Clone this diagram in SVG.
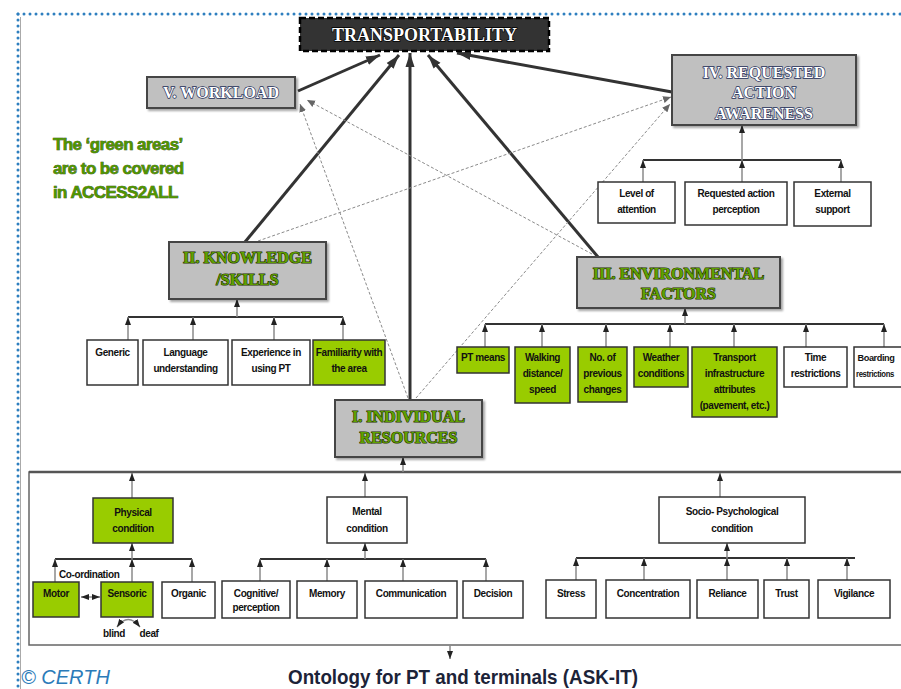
<svg xmlns="http://www.w3.org/2000/svg" width="901" height="689" viewBox="0 0 901 689">
<defs>
<style>
.gbox{fill:#c0c0c0;stroke:#444;stroke-width:2}
.wbox{fill:#fff;stroke:#333;stroke-width:1.5}
.grbox{fill:#99cc00;stroke:#333;stroke-width:1.5}
.t{font-family:"Liberation Sans",Arial,sans-serif;font-weight:bold;font-size:10px;fill:#111;text-anchor:middle;letter-spacing:-0.4px}
.hw{font-family:"Liberation Serif","Times New Roman",serif;font-weight:bold;font-size:16px;fill:#fff;stroke:#26305a;stroke-width:1.4px;paint-order:stroke;text-anchor:middle}
.hg{font-family:"Liberation Serif","Times New Roman",serif;font-weight:bold;font-size:16px;fill:#5fa000;stroke:#1f3300;stroke-width:1.2px;paint-order:stroke;text-anchor:middle}
.note{font-family:"Liberation Sans",Arial,sans-serif;font-weight:bold;font-size:17px;fill:#4f9400;stroke:#1d3600;stroke-width:0.6px;paint-order:stroke;letter-spacing:-0.6px}
.main{stroke:#333;stroke-width:3;fill:none}
.dash{stroke:#8a8a8a;stroke-width:1;stroke-dasharray:3 2;fill:none}
.tree{stroke:#8a8a8a;stroke-width:1.5;fill:none}
.bar{stroke:#333;stroke-width:2;fill:none}
</style>
<filter id="sh" x="-10%" y="-10%" width="130%" height="140%"><feDropShadow dx="2" dy="2" stdDeviation="1" flood-color="#000" flood-opacity="0.35"/></filter>
<marker id="ah" viewBox="0 0 8 8" refX="8" refY="4" markerWidth="8" markerHeight="8" markerUnits="userSpaceOnUse" orient="auto"><path d="M0,1 L8,4 L0,7z" fill="#222"/></marker>
<marker id="ahs" viewBox="0 0 8 8" refX="8" refY="4" markerWidth="8" markerHeight="8" markerUnits="userSpaceOnUse" orient="auto-start-reverse"><path d="M0,1 L8,4 L0,7z" fill="#222"/></marker>
<marker id="ab" viewBox="0 0 14 10" refX="14" refY="5" markerWidth="14" markerHeight="10" markerUnits="userSpaceOnUse" orient="auto"><path d="M0,0.5 L14,5 L0,9.5z" fill="#333"/></marker>
<marker id="ad" viewBox="0 0 8 8" refX="8" refY="4" markerWidth="8" markerHeight="8" markerUnits="userSpaceOnUse" orient="auto"><path d="M0,0.5 L8,4 L0,7.5z" fill="#666"/></marker>
</defs>
<rect width="901" height="689" fill="#fff"/>
<g id="border">
<line x1="20.5" y1="17" x2="20.5" y2="689" stroke="#aaa" stroke-width="1"/>
<line x1="18" y1="14" x2="901" y2="14" stroke="#2e7fbf" stroke-width="3" stroke-linecap="round" stroke-dasharray="0 6"/>
<line x1="18" y1="14" x2="18" y2="689" stroke="#2e7fbf" stroke-width="3" stroke-linecap="round" stroke-dasharray="0 6"/>
</g>

<g id="connectors">
<line class="main" x1="298" y1="91" x2="380" y2="55" marker-end="url(#ab)"/>
<line class="main" x1="245" y1="242" x2="399" y2="55" marker-end="url(#ab)"/>
<line class="main" x1="410" y1="400" x2="410" y2="53" marker-end="url(#ab)"/>
<line class="main" x1="598" y1="257" x2="428" y2="55" marker-end="url(#ab)"/>
<line class="main" x1="672" y1="92" x2="457" y2="53" marker-end="url(#ab)"/>
<line class="dash" x1="408" y1="398" x2="300" y2="104" marker-end="url(#ad)"/>
<line class="dash" x1="592" y1="254" x2="307" y2="100" marker-end="url(#ad)"/>
<line class="dash" x1="258" y1="241" x2="671" y2="97" marker-end="url(#ad)"/>
<line class="dash" x1="416" y1="398" x2="670" y2="104" marker-end="url(#ad)"/>

<line class="bar" x1="643" y1="160" x2="841" y2="160"/>
<line class="tree" x1="742" y1="160" x2="742" y2="125" marker-end="url(#ah)"/>
<line class="tree" x1="643" y1="182" x2="643" y2="160" marker-end="url(#ah)"/>
<line class="tree" x1="742" y1="182" x2="742" y2="160" marker-end="url(#ah)"/>
<line class="tree" x1="841" y1="182" x2="841" y2="160" marker-end="url(#ah)"/>

<line class="bar" x1="128" y1="317" x2="343" y2="317"/>
<line class="tree" x1="237" y1="317" x2="237" y2="299" marker-end="url(#ah)"/>
<line class="tree" x1="128" y1="340" x2="128" y2="317" marker-end="url(#ah)"/>
<line class="tree" x1="193" y1="340" x2="193" y2="317" marker-end="url(#ah)"/>
<line class="tree" x1="274" y1="340" x2="274" y2="317" marker-end="url(#ah)"/>
<line class="tree" x1="343" y1="340" x2="343" y2="317" marker-end="url(#ah)"/>

<line class="bar" x1="485" y1="324" x2="884" y2="324"/>
<line class="tree" x1="685" y1="324" x2="685" y2="308" marker-end="url(#ah)"/>
<line class="tree" x1="485" y1="347" x2="485" y2="324" marker-end="url(#ah)"/>
<line class="tree" x1="542" y1="347" x2="542" y2="324" marker-end="url(#ah)"/>
<line class="tree" x1="606" y1="347" x2="606" y2="324" marker-end="url(#ah)"/>
<line class="tree" x1="670" y1="347" x2="670" y2="324" marker-end="url(#ah)"/>
<line class="tree" x1="734" y1="347" x2="734" y2="324" marker-end="url(#ah)"/>
<line class="tree" x1="806" y1="347" x2="806" y2="324" marker-end="url(#ah)"/>
<line class="tree" x1="884" y1="347" x2="884" y2="324" marker-end="url(#ah)"/>

<rect x="29" y="472" width="885" height="173" fill="none" stroke="#666" stroke-width="1.5"/>
<line x1="29" y1="472" x2="901" y2="472" stroke="#555" stroke-width="2.5"/>
<line class="tree" x1="403" y1="472" x2="403" y2="457" marker-end="url(#ah)"/>
<line class="tree" x1="132" y1="498" x2="132" y2="473" marker-end="url(#ah)"/>
<line class="tree" x1="365" y1="497" x2="365" y2="473" marker-end="url(#ah)"/>
<line class="tree" x1="720" y1="497" x2="720" y2="473" marker-end="url(#ah)"/>
<line class="tree" x1="450" y1="645" x2="450" y2="659" marker-end="url(#ah)"/>

<line class="bar" x1="55" y1="559" x2="192" y2="559" stroke-width="1.5"/>
<line class="tree" x1="132" y1="559" x2="132" y2="543" marker-end="url(#ah)"/>
<line class="tree" x1="55" y1="582" x2="55" y2="559" marker-end="url(#ah)"/>
<line class="tree" x1="132" y1="582" x2="132" y2="559" marker-end="url(#ah)"/>
<line class="tree" x1="192" y1="582" x2="192" y2="559" marker-end="url(#ah)"/>
<line class="tree" x1="81" y1="597" x2="100" y2="597" marker-start="url(#ahs)" marker-end="url(#ah)"/>
<path class="tree" d="M117,627 Q128,612 140,627" marker-start="url(#ahs)" marker-end="url(#ah)" stroke-width="1.2"/>

<line class="bar" x1="260" y1="559" x2="486" y2="559" stroke-width="1.5"/>
<line class="tree" x1="365" y1="559" x2="365" y2="543" marker-end="url(#ah)"/>
<line class="tree" x1="260" y1="581" x2="260" y2="559" marker-end="url(#ah)"/>
<line class="tree" x1="327" y1="581" x2="327" y2="559" marker-end="url(#ah)"/>
<line class="tree" x1="403" y1="581" x2="403" y2="559" marker-end="url(#ah)"/>
<line class="tree" x1="486" y1="581" x2="486" y2="559" marker-end="url(#ah)"/>

<line class="bar" x1="576" y1="558" x2="855" y2="558" stroke-width="1.5"/>
<line class="tree" x1="727" y1="558" x2="727" y2="543" marker-end="url(#ah)"/>
<line class="tree" x1="576" y1="580" x2="576" y2="558" marker-end="url(#ah)"/>
<line class="tree" x1="644" y1="580" x2="644" y2="558" marker-end="url(#ah)"/>
<line class="tree" x1="727" y1="580" x2="727" y2="558" marker-end="url(#ah)"/>
<line class="tree" x1="787" y1="580" x2="787" y2="558" marker-end="url(#ah)"/>
<line class="tree" x1="847" y1="580" x2="847" y2="558" marker-end="url(#ah)"/>
</g>

<g id="transportability">
<rect x="300" y="18" width="249" height="33" fill="#333" stroke="#000" stroke-width="2.5" stroke-dasharray="6 3"/>
<text x="424.5" y="41" class="hw" style="font-size:18px;stroke:#000">TRANSPORTABILITY</text>
</g>

<g id="workload">
<rect class="gbox" x="147" y="77" width="148" height="31" filter="url(#sh)"/>
<text x="221" y="98" class="hw">V. WORKLOAD</text>
</g>

<g id="requested-action">
<rect class="gbox" x="672" y="55" width="184" height="70" filter="url(#sh)"/>
<text x="764" y="78" class="hw">IV. REQUESTED</text>
<text x="764" y="98" class="hw">ACTION</text>
<text x="764" y="119" class="hw">AWARENESS</text>
</g>

<g id="note">
<text x="53" y="150" class="note">The ‘green areas’</text>
<text x="53" y="174" class="note">are to be covered</text>
<text x="53" y="198" class="note">in ACCESS2ALL</text>
</g>

<g id="level-attention"><rect class="wbox" x="598" y="182" width="77" height="41"/><text class="t" x="636.5" y="197">Level of</text><text class="t" x="636.5" y="213">attention</text></g>
<g id="req-perception"><rect class="wbox" x="685" y="182" width="102" height="43"/><text class="t" x="736" y="197">Requested action</text><text class="t" x="736" y="213">perception</text></g>
<g id="external-support"><rect class="wbox" x="794" y="182" width="77" height="44"/><text class="t" x="832.5" y="197">External</text><text class="t" x="832.5" y="213">support</text></g>

<g id="knowledge">
<rect class="gbox" x="169" y="242" width="157" height="57" filter="url(#sh)"/>
<text x="247.5" y="263" class="hg">II. KNOWLEDGE</text>
<text x="247.5" y="285" class="hg">/SKILLS</text>
</g>
<g id="generic"><rect class="wbox" x="87" y="340" width="51" height="45"/><text class="t" x="112.5" y="356">Generic</text></g>
<g id="language"><rect class="wbox" x="143" y="340" width="85" height="45"/><text class="t" x="185.5" y="356">Language</text><text class="t" x="185.5" y="372">understanding</text></g>
<g id="experience"><rect class="wbox" x="232" y="340" width="78" height="45"/><text class="t" x="271" y="356">Experience in</text><text class="t" x="271" y="372">using PT</text></g>
<g id="familiarity"><rect class="grbox" x="313" y="340" width="72" height="45"/><text class="t" x="349" y="356">Familiarity with</text><text class="t" x="349" y="372">the area</text></g>

<g id="environmental">
<rect class="gbox" x="577" y="257" width="203" height="51" filter="url(#sh)"/>
<text x="678.5" y="279" class="hg">III. ENVIRONMENTAL</text>
<text x="678.5" y="299" class="hg">FACTORS</text>
</g>
<g id="pt-means"><rect class="grbox" x="457" y="347" width="52" height="26"/><text class="t" x="483" y="361">PT means</text></g>
<g id="walking"><rect class="grbox" x="515" y="347" width="55" height="56"/><text class="t" x="542.5" y="361">Walking</text><text class="t" x="542.5" y="377">distance/</text><text class="t" x="542.5" y="393">speed</text></g>
<g id="changes"><rect class="grbox" x="578" y="347" width="49" height="55"/><text class="t" x="602.5" y="361">No. of</text><text class="t" x="602.5" y="377">previous</text><text class="t" x="602.5" y="393">changes</text></g>
<g id="weather"><rect class="grbox" x="634" y="347" width="54" height="40"/><text class="t" x="661" y="361">Weather</text><text class="t" x="661" y="377">conditions</text></g>
<g id="transport-infra"><rect class="grbox" x="692" y="347" width="85" height="70"/><text class="t" x="734.5" y="361">Transport</text><text class="t" x="734.5" y="377">infrastructure</text><text class="t" x="734.5" y="393">attributes</text><text class="t" x="734.5" y="409">(pavement, etc.)</text></g>
<g id="time"><rect class="wbox" x="784" y="347" width="63" height="40"/><text class="t" x="815.5" y="361">Time</text><text class="t" x="815.5" y="377">restrictions</text></g>
<g id="boarding"><rect class="wbox" x="854" y="347" width="62" height="40"/><text class="t" x="876" y="361" style="font-size:9px" textLength="37" lengthAdjust="spacingAndGlyphs">Boarding</text><text class="t" x="875" y="377" style="font-size:9px" textLength="38" lengthAdjust="spacingAndGlyphs">restrictions</text></g>

<g id="individual">
<rect class="gbox" x="335" y="400" width="147" height="57" filter="url(#sh)"/>
<text x="408.5" y="422" class="hg">I. INDIVIDUAL</text>
<text x="408.5" y="443" class="hg">RESOURCES</text>
</g>

<g id="physical"><rect class="grbox" x="93" y="498" width="80" height="45"/><text class="t" x="133" y="516">Physical</text><text class="t" x="133" y="532">condition</text></g>
<g id="coordination"><text class="t" x="59" y="578" style="text-anchor:start">Co-ordination</text></g>
<g id="motor"><rect class="grbox" x="33" y="582" width="46" height="35"/><text class="t" x="56" y="597">Motor</text></g>
<g id="sensoric"><rect class="grbox" x="101" y="582" width="52" height="35"/><text class="t" x="127" y="597">Sensoric</text></g>
<g id="organic"><rect class="wbox" x="162" y="582" width="53" height="36"/><text class="t" x="188.5" y="597">Organic</text></g>
<g id="blind-deaf"><text class="t" x="114" y="637">blind</text><text class="t" x="149" y="637">deaf</text></g>

<g id="mental"><rect class="wbox" x="327" y="497" width="80" height="46"/><text class="t" x="367" y="515">Mental</text><text class="t" x="367" y="532">condition</text></g>
<g id="cognitive"><rect class="wbox" x="222" y="581" width="68" height="37"/><text class="t" x="256" y="597">Cognitive/</text><text class="t" x="256" y="611">perception</text></g>
<g id="memory"><rect class="wbox" x="297" y="581" width="60" height="37"/><text class="t" x="327" y="597">Memory</text></g>
<g id="communication"><rect class="wbox" x="365" y="581" width="92" height="37"/><text class="t" x="411" y="597">Communication</text></g>
<g id="decision"><rect class="wbox" x="463" y="581" width="60" height="37"/><text class="t" x="493" y="597">Decision</text></g>

<g id="socio"><rect class="wbox" x="659" y="497" width="146" height="46"/><text class="t" x="732" y="515">Socio- Psychological</text><text class="t" x="732" y="532">condition</text></g>
<g id="stress"><rect class="wbox" x="546" y="580" width="50" height="38"/><text class="t" x="571" y="597">Stress</text></g>
<g id="concentration"><rect class="wbox" x="606" y="580" width="84" height="38"/><text class="t" x="648" y="597">Concentration</text></g>
<g id="reliance"><rect class="wbox" x="697" y="580" width="61" height="38"/><text class="t" x="727.5" y="597">Reliance</text></g>
<g id="trust"><rect class="wbox" x="764" y="580" width="45" height="38"/><text class="t" x="786.5" y="597">Trust</text></g>
<g id="vigilance"><rect class="wbox" x="818" y="580" width="72" height="38"/><text class="t" x="854" y="597">Vigilance</text></g>

<g id="caption">
<text x="288" y="684" textLength="350" lengthAdjust="spacingAndGlyphs" style="font-family:'Liberation Sans',Arial,sans-serif;font-weight:bold;font-size:21px;fill:#1c2338">Ontology for PT and terminals (ASK-IT)</text>
<text x="21" y="684" style="font-family:'Liberation Sans',Arial,sans-serif;font-style:italic;font-size:20px;fill:#2b7bb9">© CERTH</text>
</g>
</svg>
